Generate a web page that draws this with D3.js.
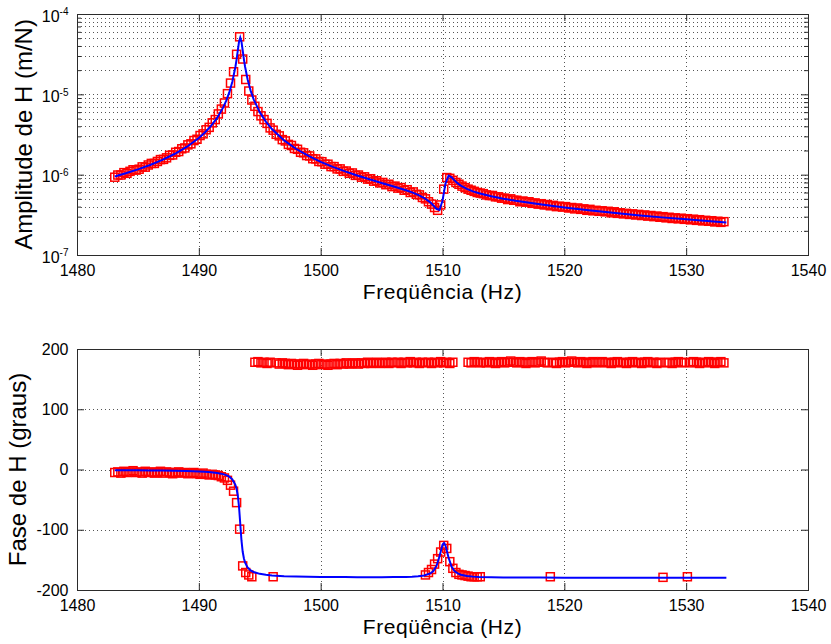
<!DOCTYPE html>
<html>
<head>
<meta charset="utf-8">
<script src="https://cdn.jsdelivr.net/npm/d3@7"></script>
<style>
  body { margin: 0; background: #fff; }
  svg text { font-family: "Liberation Sans", Arial, Helvetica, sans-serif; fill: #000; }
</style>
</head>
<body>
<div id="chart"></div>
<script>
// Measured FRF (red squares), 0.25 Hz steps
const measFreq = [
  1483.1,1483.35,1483.6,1483.85, 1484.1,1484.35,1484.6,1484.85, 1485.1,1485.35,1485.6,1485.85,
  1486.1,1486.35,1486.6,1486.85, 1487.1,1487.35,1487.6,1487.85, 1488.1,1488.35,1488.6,1488.85,
  1489.1,1489.35,1489.6,1489.85, 1490.1,1490.35,1490.6,1490.85, 1491.1,1491.35,1491.6,1491.85,
  1492.1,1492.35,1492.6,1492.85, 1493.1,1493.35,1493.6,1493.85, 1494.1,1494.35,1494.6,1494.85,
  1495.1,1495.35,1495.6,1495.85, 1496.1,1496.35,1496.6,1496.85, 1497.1,1497.35,1497.6,1497.85,
  1498.1,1498.35,1498.6,1498.85, 1499.1,1499.35,1499.6,1499.85, 1500.1,1500.35,1500.6,1500.85,
  1501.1,1501.35,1501.6,1501.85, 1502.1,1502.35,1502.6,1502.85, 1503.1,1503.35,1503.6,1503.85,
  1504.1,1504.35,1504.6,1504.85, 1505.1,1505.35,1505.6,1505.85, 1506.1,1506.35,1506.6,1506.85,
  1507.1,1507.35,1507.6,1507.85, 1508.1,1508.35,1508.6,1508.85, 1509.1,1509.35,1509.6,1509.85,
  1510.1,1510.35,1510.6,1510.85, 1511.1,1511.35,1511.6,1511.85, 1512.1,1512.35,1512.6,1512.85,
  1513.1,1513.35,1513.6,1513.85, 1514.1,1514.35,1514.6,1514.85, 1515.1,1515.35,1515.6,1515.85,
  1516.1,1516.35,1516.6,1516.85, 1517.1,1517.35,1517.6,1517.85, 1518.1,1518.35,1518.6,1518.85,
  1519.1,1519.35,1519.6,1519.85, 1520.1,1520.35,1520.6,1520.85, 1521.1,1521.35,1521.6,1521.85,
  1522.1,1522.35,1522.6,1522.85, 1523.1,1523.35,1523.6,1523.85, 1524.1,1524.35,1524.6,1524.85,
  1525.1,1525.35,1525.6,1525.85, 1526.1,1526.35,1526.6,1526.85, 1527.1,1527.35,1527.6,1527.85,
  1528.1,1528.35,1528.6,1528.85, 1529.1,1529.35,1529.6,1529.85, 1530.1,1530.35,1530.6,1530.85,
  1531.1,1531.35,1531.6,1531.85, 1532.1,1532.35,1532.6,1532.85, 1533.1
];

const measAmp = [
  9.3e-7,9.9e-7,9.9e-7,1.06e-6,1.04e-6,1.10e-6,1.15e-6,1.14e-6,1.17e-6,1.25e-6,
  1.24e-6,1.32e-6,1.38e-6,1.38e-6,1.46e-6,1.54e-6,1.55e-6,1.62e-6,1.74e-6,1.76e-6,
  1.90e-6,1.94e-6,2.10e-6,2.15e-6,2.35e-6,2.42e-6,2.66e-6,2.76e-6,3.07e-6,3.22e-6,
  3.62e-6,3.88e-6,4.42e-6,4.85e-6,5.70e-6,6.55e-6,7.8e-6,1.02e-5,1.38e-5,1.91e-5,
  3.15e-5,5.2e-5,2.75e-5,1.53e-5,1.10e-5,8.5e-6,7.1e-6,6.1e-6,5.4e-6,4.85e-6,
  4.35e-6,3.82e-6,3.58e-6,3.18e-6,3.04e-6,2.73e-6,2.63e-6,2.38e-6,2.31e-6,2.12e-6,
  2.07e-6,1.90e-6,1.87e-6,1.73e-6,1.71e-6,1.58e-6,1.57e-6,1.46e-6,1.45e-6,1.35e-6,
  1.35e-6,1.26e-6,1.26e-6,1.18e-6,1.18e-6,1.10e-6,1.11e-6,1.04e-6,1.05e-6,9.8e-7,
  9.9e-7,9.3e-7,9.4e-7,8.8e-7,8.9e-7,8.3e-7,8.4e-7,7.9e-7,8.0e-7,7.5e-7,
  7.6e-7,7.1e-7,7.2e-7,6.8e-7,6.9e-7,6.4e-7,6.5e-7,6.0e-7,6.1e-7,5.7e-7,
  5.6e-7,5.2e-7,5.0e-7,4.6e-7,4.3e-7,3.9e-7,3.6e-7,4.2e-7,6.6e-7,9.2e-7,
  9.0e-7,8.5e-7,8.0e-7,7.6e-7,7.2e-7,6.9e-7,6.6e-7,6.4e-7,6.2e-7,6.0e-7,
  5.9e-7,5.8e-7,5.6e-7,5.5e-7,5.5e-7,5.3e-7,5.3e-7,5.1e-7,5.1e-7,4.9e-7,
  5.0e-7,4.8e-7,4.8e-7,4.6e-7,4.7e-7,4.55e-7,4.6e-7,4.4e-7,4.45e-7,4.3e-7,
  4.35e-7,4.2e-7,4.25e-7,4.1e-7,4.15e-7,4.0e-7,4.05e-7,3.95e-7,4.0e-7,3.85e-7,
  3.9e-7,3.75e-7,3.85e-7,3.7e-7,3.75e-7,3.6e-7,3.7e-7,3.55e-7,3.6e-7,3.5e-7,
  3.55e-7,3.45e-7,3.5e-7,3.35e-7,3.45e-7,3.3e-7,3.35e-7,3.25e-7,3.3e-7,3.2e-7,
  3.25e-7,3.15e-7,3.2e-7,3.1e-7,3.15e-7,3.05e-7,3.1e-7,3.0e-7,3.05e-7,2.95e-7,
  3.0e-7,2.9e-7,2.95e-7,2.85e-7,2.9e-7,2.82e-7,2.87e-7,2.78e-7,2.83e-7,2.74e-7,
  2.79e-7,2.7e-7,2.75e-7,2.66e-7,2.7e-7,2.63e-7,2.67e-7,2.58e-7,2.63e-7,2.55e-7,
  2.6e-7
];

const measPhase = [
  -5,-4,-6,-3,-5,-4,-2,-5,-4,-6,
  -3,-5,-4,-6,-5,-3,-6,-4,-5,-7,
  -5,-4,-6,-5,-7,-6,-5,-7,-8,-6,
  -8,-9,-8,-9,-10,-12,-14,-18,-26,-36,
  -55,-99,-160,-171,-175,-178,178,179,177,178,
  176,178,-178,177,175,177,176,174,176,175,
  173,175,176,174,175,173,175,176,174,175,
  173,175,176,174,176,175,177,175,176,177,
  175,177,176,178,176,177,178,176,177,178,
  176,178,177,178,176,178,177,179,177,178,
  176,178,-175,-171,-166,-157,-148,-137,-126,-131,
  -153,-164,-171,-174,-175,-176,-177,-178,-178,-178,
  -178,178,177,179,178,176,178,179,177,178,
  180,178,177,179,178,176,178,179,177,178,
  180,178,177,-178,178,176,178,179,177,178,
  180,178,177,179,178,176,178,179,177,178,
  179,177,178,176,178,179,177,178,176,178,
  179,177,178,176,178,179,177,178,176,178,
  -179,177,178,176,178,179,177,178,-178,177,
  179,178,176,178,177,179,178,176,178,179,
  177
];

// second pass of wrapped phase points near the 1510 Hz mode (upper band)
const phaseWrapFreq = [1508.6,1508.85,1509.1,1509.35,1509.6,1509.85,1510.1,1510.35,1510.6,1510.85,
  1512.1,1512.35,1512.6,1512.85,1513.1];
const phaseWrapVals = [177,178,176,178,177,179,177,178,176,178,
  178,177,179,178,177];

// Fitted model (blue line)
const fitFreq = [
  1483.1,1484,1485,1486,1487,1488,1489,1490,1490.5,1491,1491.5,1492,1492.25,1492.5,1492.75,
  1493,1493.1,1493.2,1493.3,1493.4,1493.5,1493.6,1493.7,1493.8,1494,1494.25,1494.5,1495,1495.5,
  1496,1497,1498,1499,1500,1501,1502,1503,1504,1505,1506,1507,1507.5,1508,1508.5,1509,1509.25,
  1509.5,1509.75,1510,1510.125,1510.25,1510.5,1510.75,1511,1511.25,1511.5,1512,1512.5,1513,
  1514,1515,1516,1518,1520,1522,1524,1526,1528,1530,1532,1533.3
];
const fitAmp = [
  9.51e-7,1.041e-6,1.165e-6,1.321e-6,1.526e-6,1.807e-6,2.214e-6,2.861e-6,3.35e-6,4.04e-6,5.09e-6,6.88e-6,8.33e-6,1.055e-5,1.432e-5,
  2.19e-5,2.73e-5,3.52e-5,4.52e-5,5.1e-5,4.52e-5,3.52e-5,2.73e-5,2.19e-5,1.541e-5,1.112e-5,8.67e-6,6.0e-6,4.58e-6,
  3.70e-6,2.672e-6,2.087e-6,1.71e-6,1.446e-6,1.249e-6,1.098e-6,9.76e-7,8.76e-7,7.89e-7,7.12e-7,6.39e-7,6.01e-7,5.6e-7,5.12e-7,4.52e-7,4.14e-7,
  3.76e-7,3.63e-7,4.74e-7,6.12e-7,7.81e-7,9.72e-7,9.26e-7,8.44e-7,7.79e-7,7.3e-7,6.64e-7,6.19e-7,5.86e-7,
  5.38e-7,5.02e-7,4.73e-7,4.27e-7,3.91e-7,3.61e-7,3.35e-7,3.13e-7,2.94e-7,2.78e-7,2.63e-7,2.54e-7
];
const fitPhase = [
  -1.1,-1.2,-1.3,-1.5,-1.7,-2.0,-2.5,-3.2,-3.7,-4.5,-5.7,-7.7,-9.4,-11.9,-16.3,
  -25.4,-32.3,-43.5,-62.2,-90,-117.8,-136.5,-147.7,-154.6,-162.4,-167.4,-170.2,-173.2,-174.8,
  -175.8,-177.0,-177.6,-178.1,-178.3,-178.5,-178.6,-178.7,-178.8,-178.8,-178.6,-178.3,-178.0,-177.3,-175.9,-172.5,-168.5,
  -160.5,-144.3,-124.7,-121.9,-126.5,-146.6,-161.4,-168.8,-172.5,-174.6,-176.7,-177.8,-178.4,
  -178.9,-179.1,-179.3,-179.4,-179.5,-179.5,-179.6,-179.6,-179.6,-179.6,-179.7,-179.7
];

const freqTicks = [1480, 1490, 1500, 1510, 1520, 1530, 1540];
const ampTicks = [1e-7, 1e-6, 1e-5, 1e-4];
const phaseTicks = [-200, -100, 0, 100, 200];

const width = 831, height = 644;
const plotLeft = 77, plotW = 731, plotH = 241;
const ampTop = 14, phaseTop = 349;
const axisColor = "#2b2b2b";

const svg = d3.select("#chart").append("svg")
  .attr("width", width)
  .attr("height", height)
  .style("background", "#fff");

const x = d3.scaleLinear().domain([1480, 1540]).range([0, plotW]);
const yAmp = d3.scaleLog().domain([1e-7, 1e-4]).range([plotH, 0]);
const yPh = d3.scaleLinear().domain([-200, 200]).range([plotH, 0]);

function styleAxis(g) {
  g.select(".domain").remove();
  g.selectAll("line").attr("stroke", axisColor).attr("stroke-width", 1);
  g.selectAll("text").style("font-size", "16px").attr("fill", "#000");
}

function drawPanel(top, y, yGridVals, yTickVals, yMinor, labelFmt, yTitle, yTitleX) {
  const g = svg.append("g").attr("transform", `translate(${plotLeft},${top})`);

  // dotted grid
  const grid = g.append("g")
    .attr("stroke", "#555")
    .attr("stroke-width", 1)
    .attr("stroke-dasharray", "1,3");
  grid.selectAll("line.gx")
    .data(freqTicks.slice(1, -1))
    .enter().append("line")
    .attr("x1", d => Math.round(x(d)) + 0.5).attr("x2", d => Math.round(x(d)) + 0.5)
    .attr("y1", 0).attr("y2", plotH);
  grid.selectAll("line.gy")
    .data(yGridVals)
    .enter().append("line")
    .attr("x1", 0).attr("x2", plotW)
    .attr("y1", d => Math.round(y(d)) + 0.5).attr("y2", d => Math.round(y(d)) + 0.5);

  // ticks on all four sides, pointing inwards
  g.append("g").attr("transform", `translate(0,${plotH})`)
    .call(d3.axisBottom(x).tickValues(freqTicks).tickSize(-7).tickPadding(9.5).tickFormat(d3.format("d")))
    .call(styleAxis);
  g.append("g")
    .call(d3.axisTop(x).tickValues(freqTicks).tickSize(-7).tickFormat(""))
    .call(styleAxis);

  const left = g.append("g")
    .call(d3.axisLeft(y).tickValues(yTickVals).tickSize(-7).tickPadding(8.5).tickFormat(() => ""))
    .call(styleAxis);
  left.selectAll("text").each(labelFmt);
  g.append("g").attr("transform", `translate(${plotW},0)`)
    .call(d3.axisRight(y).tickValues(yTickVals).tickSize(-7).tickFormat(""))
    .call(styleAxis);
  if (yMinor.length) {
    g.append("g")
      .call(d3.axisLeft(y).tickValues(yMinor).tickSize(-4).tickFormat(""))
      .call(styleAxis);
    g.append("g").attr("transform", `translate(${plotW},0)`)
      .call(d3.axisRight(y).tickValues(yMinor).tickSize(-4).tickFormat(""))
      .call(styleAxis);
  }

  g.append("rect")
    .attr("x", 0.5).attr("y", 0.5)
    .attr("width", plotW).attr("height", plotH)
    .attr("fill", "none")
    .attr("stroke", axisColor)
    .attr("stroke-width", 1);

  // axis titles
  svg.append("text")
    .attr("x", plotLeft + plotW / 2)
    .attr("y", top + plotH + 44)
    .attr("text-anchor", "middle")
    .style("font-size", "21px")
    .style("letter-spacing", "0.6px")
    .text("Freqüência (Hz)");

  svg.append("text")
    .attr("transform", `translate(${yTitleX},${top + plotH / 2}) rotate(-90)`)
    .attr("text-anchor", "middle")
    .style("font-size", "24px")
    .text(yTitle);

  return g;
}

function drawSquares(g, y, freqs, vals) {
  g.append("g").selectAll("rect")
    .data(freqs.map((f, i) => [f, vals[i]]))
    .enter().append("rect")
    .attr("x", d => x(d[0]) - 4)
    .attr("y", d => y(d[1]) - 4)
    .attr("width", 8)
    .attr("height", 8)
    .attr("fill", "none")
    .attr("stroke", "#ff0000")
    .attr("stroke-width", 1.5);
}

function drawFit(g, y, fitF, fitV) {
  const line = d3.line()
    .x(d => x(d[0]))
    .y(d => y(d[1]));
  g.append("path")
    .datum(fitF.map((f, i) => [f, fitV[i]]))
    .attr("d", line)
    .attr("fill", "none")
    .attr("stroke", "#0000ff")
    .attr("stroke-width", 2);
}

// --- Amplitude panel (log scale)
const ampAll = yAmp.ticks();
const ampMinor = ampAll.filter(v => !ampTicks.some(t => Math.abs(t - v) / t < 1e-6));
const ampGrid = ampAll.filter(v => v > 1e-7 * 1.0001 && v < 1e-4 * 0.9999);

const gAmp = drawPanel(ampTop, yAmp, ampGrid, ampTicks, ampMinor, function (d) {
  const t = d3.select(this);
  t.text("").attr("dy", "0.45em");
  t.append("tspan").text("10");
  t.append("tspan")
    .attr("dy", -6.5)
    .style("font-size", "10px")
    .text(String(Math.round(Math.log10(d))));
}, "Amplitude de H (m/N)", 32);

drawSquares(gAmp, yAmp, measFreq, measAmp);
drawFit(gAmp, yAmp, fitFreq, fitAmp);

// --- Phase panel
const gPh = drawPanel(phaseTop, yPh, phaseTicks.slice(1, -1), phaseTicks, [], function (d) {
  d3.select(this).text(d);
}, "Fase de H (graus)", 26);

drawSquares(gPh, yPh, measFreq, measPhase);
drawSquares(gPh, yPh, phaseWrapFreq, phaseWrapVals);
drawFit(gPh, yPh, fitFreq, fitPhase);
</script>
</body>
</html>
